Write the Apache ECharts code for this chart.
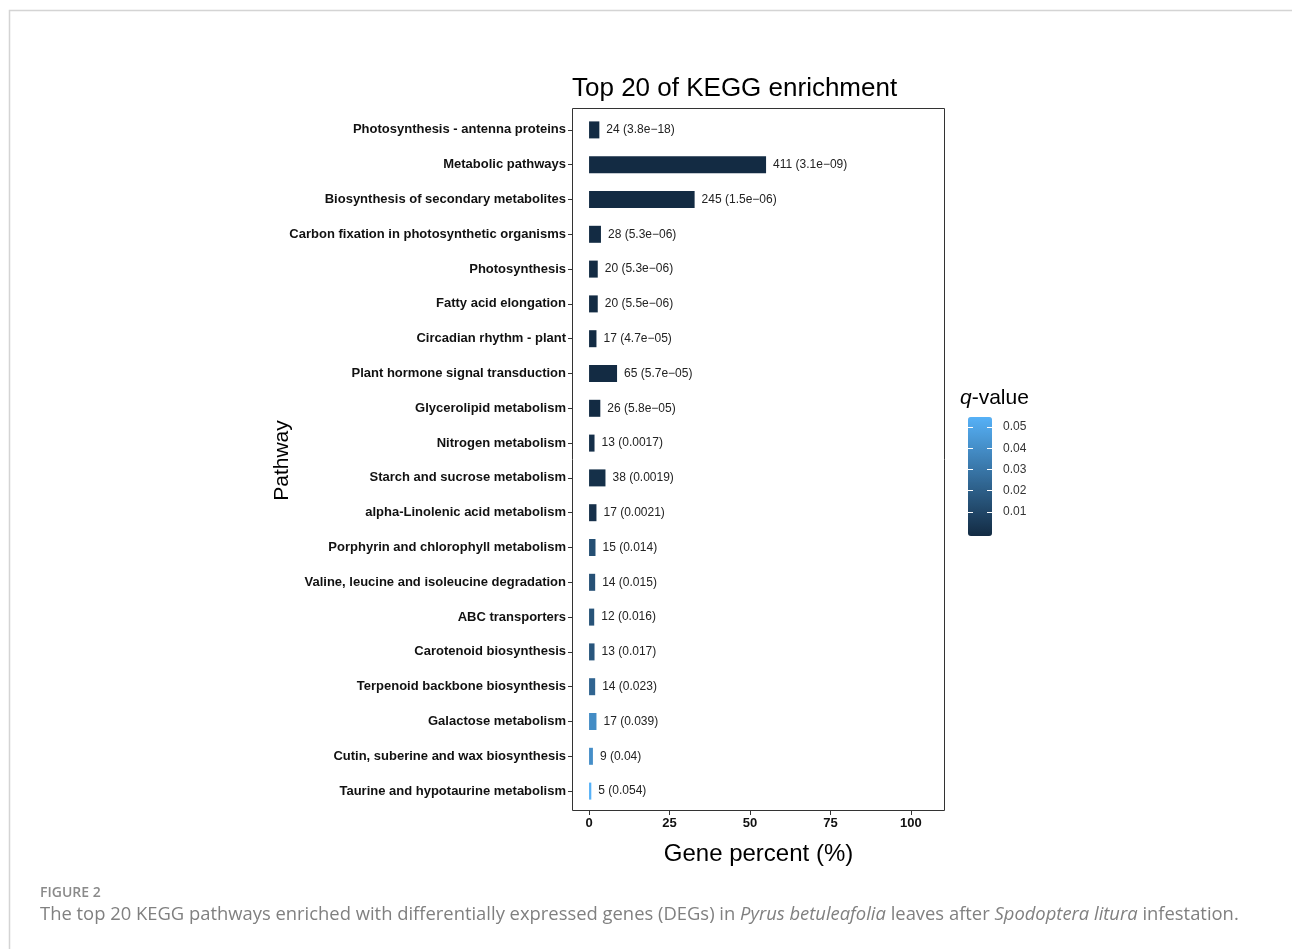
<!DOCTYPE html>
<html>
<head>
<meta charset="utf-8">
<script src="https://cdn.jsdelivr.net/npm/echarts@6/dist/echarts.min.js"></script>
<style>
    html, body {margin: 0; padding: 0; background: #fff;}
    #chart {width: 1292px; height: 949px;}
</style>
</head>
<body>
<div id="chart"></div>
<script>
const pathways = [
    'Photosynthesis - antenna proteins',
    'Metabolic pathways',
    'Biosynthesis of secondary metabolites',
    'Carbon fixation in photosynthetic organisms',
    'Photosynthesis',
    'Fatty acid elongation',
    'Circadian rhythm - plant',
    'Plant hormone signal transduction',
    'Glycerolipid metabolism',
    'Nitrogen metabolism',
    'Starch and sucrose metabolism',
    'alpha-Linolenic acid metabolism',
    'Porphyrin and chlorophyll metabolism',
    'Valine, leucine and isoleucine degradation',
    'ABC transporters',
    'Carotenoid biosynthesis',
    'Terpenoid backbone biosynthesis',
    'Galactose metabolism',
    'Cutin, suberine and wax biosynthesis',
    'Taurine and hypotaurine metabolism',
]
const gene_counts = [24, 411, 245, 28, 20, 20, 17, 65, 26, 13, 38, 17, 15, 14, 12, 13, 14, 17, 9, 5]
// gene percent
const gene_percent = [3.2, 55.0, 32.8, 3.7, 2.7, 2.7, 2.3, 8.7, 3.5, 1.7, 5.1, 2.3, 2.0, 1.9, 1.6, 1.7, 1.9, 2.3, 1.2, 0.7]
const q_values = [3.8e-18, 3.1e-9, 1.5e-6, 5.3e-6, 5.3e-6, 5.5e-6, 4.7e-5, 5.7e-5, 5.8e-5, 0.0017, 0.0019, 0.0021, 0.014, 0.015, 0.016, 0.017, 0.023, 0.039, 0.04, 0.054]
const q_text = ['3.8e−18', '3.1e−09', '1.5e−06', '5.3e−06', '5.3e−06', '5.5e−06', '4.7e−05', '5.7e−05', '5.8e−05', '0.0017', '0.0019', '0.0021', '0.014', '0.015', '0.016', '0.017', '0.023', '0.039', '0.04', '0.054']
const x_ticks = [0, 25, 50, 75, 100]
const legend_ticks = [0.01, 0.02, 0.03, 0.04, 0.05]

const chart = echarts.init(document.getElementById('chart'))

const bar_data = pathways.map((p, i) => [gene_percent[i], p, q_values[i]])

// white ticks on both edges of the colour bar
const legend_axis = (position) => ({
    gridIndex: 1,
    type: 'value',
    min: -0.0013,
    max: 0.0547,
    position: position,
    z: 10,
    splitLine: {show: false},
    axisLine: {show: false, onZero: false},
    axisTick: {show: true, inside: true, length: 5, customValues: legend_ticks, lineStyle: {color: '#fff', width: 1}},
    axisLabel: position === 'right'
        ? {customValues: legend_ticks, fontSize: 12, color: '#333', margin: 11, padding: [4, 0, 0, 0]}
        : {show: false},
})

chart.setOption({
    animation: false,
    textStyle: {fontFamily: 'Liberation Sans'},
    title: {
        text: 'Top 20 of KEGG enrichment',
        left: 572,
        top: 76,
        padding: 0,
        textStyle: {fontSize: 26, fontWeight: 'normal', color: '#000', fontFamily: 'Liberation Sans'},
    },
    grid: [
        {left: 572, right: 347, top: 112.5, bottom: 140.5},
        {left: 968, top: 417, width: 24, height: 119},
    ],
    xAxis: [
        {
            type: 'value',
            min: -5.3,
            max: 110.6,
            offset: 2.5,
            splitLine: {show: false},
            axisLine: {show: false, onZero: false},
            axisTick: {show: true, length: 4, customValues: x_ticks, lineStyle: {color: '#333'}},
            axisLabel: {
                customValues: x_ticks,
                fontSize: 13,
                fontWeight: 'bold',
                color: '#111',
                margin: 6,
            },
            name: 'Gene percent (%)',
            nameLocation: 'middle',
            nameGap: 31,
            nameMoveOverlap: false,
            nameTextStyle: {fontSize: 24, color: '#000', verticalAlign: 'top'},
        },
        {gridIndex: 1, type: 'value', min: 0, max: 1, show: false},
    ],
    yAxis: [
        {
            type: 'category',
            data: pathways,
            inverse: true,
            axisLine: {show: false, onZero: false},
            axisTick: {show: true, length: 4, alignWithLabel: true, lineStyle: {color: '#333'}},
            axisLabel: {
                fontSize: 13,
                fontWeight: 'bold',
                color: '#111',
                margin: 6,
                fontFamily: 'Liberation Sans',
            },
            name: 'Pathway',
            nameLocation: 'middle',
            nameRotate: 90,
            nameGap: 279,
            nameMoveOverlap: false,
            nameTextStyle: {fontSize: 21, color: '#000'},
        },
        legend_axis('right'),
        legend_axis('left'),
    ],
    visualMap: {
        type: 'continuous',
        seriesIndex: 0,
        dimension: 2,
        min: 0,
        max: 0.054,
        calculable: false,
        left: 968,
        top: 417,
        padding: 0,
        itemWidth: 24,
        itemHeight: 119,
        text: null,
        inRange: {color: ['#132B43', '#56B1F7']},
    },
    graphic: [
        {
            type: 'rect',
            shape: {x: 9.5, y: 10.5, width: 1400, height: 1000},
            style: {fill: 'none', stroke: '#d4d4d4', lineWidth: 1.5},
            silent: true,
        },
        {
            type: 'rect',
            shape: {x: 572.5, y: 108.5, width: 372, height: 702},
            style: {fill: 'none', stroke: '#333', lineWidth: 1},
            silent: true,
            z: 10,
        },
        {
            type: 'text',
            left: 960,
            top: 388,
            style: {
                text: '{i|q}-value',
                font: '21px "Liberation Sans"',
                fill: '#000',
                rich: {i: {fontStyle: 'italic', fontSize: 21, fontFamily: 'Liberation Sans'}},
            },
        },
        {
            type: 'text',
            left: 40,
            top: 886,
            style: {
                text: 'FIGURE 2',
                font: '600 14px "Open Sans"',
                fill: '#8a8a8a',
            },
        },
        {
            type: 'text',
            left: 40,
            top: 906,
            style: {
                text: 'The top 20 KEGG pathways enriched with differentially expressed genes (DEGs) in {i|Pyrus betuleafolia} leaves after {i|Spodoptera litura} infestation.',
                font: '18.4px "Open Sans"',
                fill: '#808080',
                rich: {i: {fontStyle: 'italic', fontSize: 18.4, fontFamily: 'Open Sans', color: '#808080'}},
            },
        },
    ],
    series: [
        {
            type: 'bar',
            data: bar_data,
            encode: {x: 0, y: 1},
            barWidth: 17,
            label: {
                show: true,
                position: 'right',
                distance: 7,
                fontSize: 12,
                color: '#222',
                formatter: p => `${gene_counts[p.dataIndex]} (${q_text[p.dataIndex]})`,
            },
        },
    ],
})
</script>
</body>
</html>
